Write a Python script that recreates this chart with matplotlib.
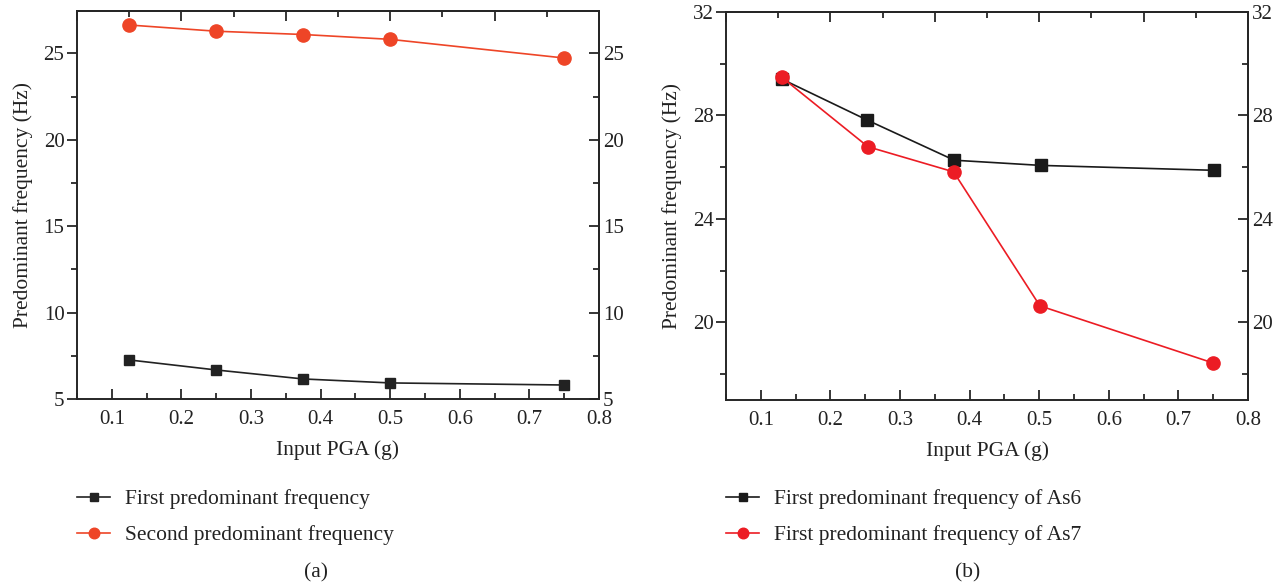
import matplotlib
matplotlib.use("Agg")
import matplotlib.pyplot as plt
from matplotlib.ticker import MultipleLocator, FixedLocator

# ---- data ----
pga_a = [0.125, 0.25, 0.375, 0.5, 0.75]
first_freq = [7.26, 6.68, 6.16, 5.93, 5.81]
second_freq = [26.64, 26.28, 26.09, 25.81, 24.73]

pga_b6 = [0.13, 0.253, 0.378, 0.502, 0.751]
as6_freq = [29.41, 27.82, 26.27, 26.07, 25.88]
pga_b7 = [0.13, 0.254, 0.377, 0.501, 0.75]
as7_freq = [29.48, 26.79, 25.82, 20.64, 18.43]

xticks = [0.1, 0.2, 0.3, 0.4, 0.5, 0.6, 0.7, 0.8]
yticks_a = [5, 10, 15, 20, 25]
yticks_b = [20, 24, 28, 32]

label_first = "First predominant frequency"
label_second = "Second predominant frequency"
label_as6 = "First predominant frequency of As6"
label_as7 = "First predominant frequency of As7"
xlabel = "Input PGA (g)"
ylabel = "Predominant frequency (Hz)"

plt.rcParams['font.family'] = ['Liberation Serif', 'DejaVu Serif']
FS = 15.5
TFS = 15
SPINE = '#262626'

W, H = 1288, 586
fig = plt.figure(figsize=(W / 100, H / 100), dpi=100)


def px_axes(l, t, r, b):
    return fig.add_axes([l / W, 1 - b / H, (r - l) / W, (b - t) / H])


def style(ax, ylim, yt, ymin):
    ax.set_xlim(0.05, 0.8)
    ax.set_ylim(*ylim)
    ax.set_xticks(xticks)
    ax.xaxis.set_minor_locator(MultipleLocator(0.05))
    ax.set_yticks(yt)
    ax.yaxis.set_minor_locator(MultipleLocator(ymin))
    ax.set_xticklabels([f"{v:.1f}" for v in xticks], fontsize=TFS)
    ax.set_yticklabels([str(v) for v in yt], fontsize=TFS)
    for s in ax.spines.values():
        s.set_linewidth(1.4)
        s.set_color(SPINE)
    ax.tick_params(axis='x', which='major', direction='in', length=7, width=1.3,
                   color=SPINE, pad=8, labelcolor='#222222')
    ax.tick_params(axis='x', which='minor', direction='in', length=4, width=1.3, color=SPINE)
    ax.tick_params(axis='y', which='major', direction='out', length=7, width=1.3,
                   color=SPINE, pad=2, labelcolor='#222222')
    ax.tick_params(axis='y', which='minor', direction='out', length=4, width=1.3, color=SPINE)
    ax.set_xlabel(xlabel, fontsize=FS, color='#222222', labelpad=8)
    ax.set_ylabel(ylabel, fontsize=FS, color='#222222', labelpad=8)
    # top axis
    top = ax.secondary_xaxis('top')
    top.set_xticks([0.05, 0.2, 0.35, 0.5, 0.65, 0.8])
    top.xaxis.set_minor_locator(FixedLocator([0.125, 0.275, 0.425, 0.575, 0.725]))
    top.tick_params(which='major', direction='in', length=7, width=1.3, color=SPINE, labeltop=False)
    top.tick_params(which='minor', direction='in', length=4, width=1.3, color=SPINE)
    top.spines['top'].set_linewidth(1.4)
    top.spines['top'].set_color(SPINE)
    # right axis
    right = ax.secondary_yaxis('right')
    right.set_yticks(yt)
    right.set_yticklabels([str(v) for v in yt], fontsize=TFS)
    right.yaxis.set_minor_locator(MultipleLocator(ymin))
    right.tick_params(which='major', direction='in', length=7, width=1.3, color=SPINE,
                      pad=3, labelcolor='#222222')
    right.tick_params(which='minor', direction='in', length=4, width=1.3, color=SPINE)
    right.spines['right'].set_linewidth(1.4)
    right.spines['right'].set_color(SPINE)


# ---- panel (a) ----
axa = px_axes(77, 11, 599, 399)
la1, = axa.plot(pga_a, first_freq, color='#222222', lw=1.2, marker='s', ms=7,
                label=label_first)
la2, = axa.plot(pga_a, second_freq, color='#EE4527', lw=1.2, marker='o', ms=9.5,
                label=label_second)
style(axa, (5, 27.45), yticks_a, 2.5)

# ---- panel (b) ----
axb = px_axes(726, 12, 1248, 400)
lb1, = axb.plot(pga_b6, as6_freq, color='#1a1a1a', lw=1.2, marker='s', ms=8,
                label=label_as6)
lb2, = axb.plot(pga_b7, as7_freq, color='#EC1C24', lw=1.2, marker='o', ms=9.5,
                label=label_as7)
style(axb, (17, 32), yticks_b, 2)

leg_kw = dict(loc='upper left', frameon=False, fontsize=FS, handlelength=1.55,
              handletextpad=0.7, labelspacing=0.75, borderpad=0, borderaxespad=0,
              labelcolor='#222222', markerscale=0.8)
fig.legend(handles=[la1, la2], bbox_to_anchor=(77 / W, 1 - 489 / H), **leg_kw)
fig.legend(handles=[lb1, lb2], bbox_to_anchor=(726 / W, 1 - 489 / H), **leg_kw)

fig.text(316 / W, 1 - 573 / H, "(a)", ha='center', va='center', fontsize=FS, color='#222222')
fig.text(968 / W, 1 - 573 / H, "(b)", ha='center', va='center', fontsize=FS, color='#222222')

fig.savefig("out.png", dpi=100)
